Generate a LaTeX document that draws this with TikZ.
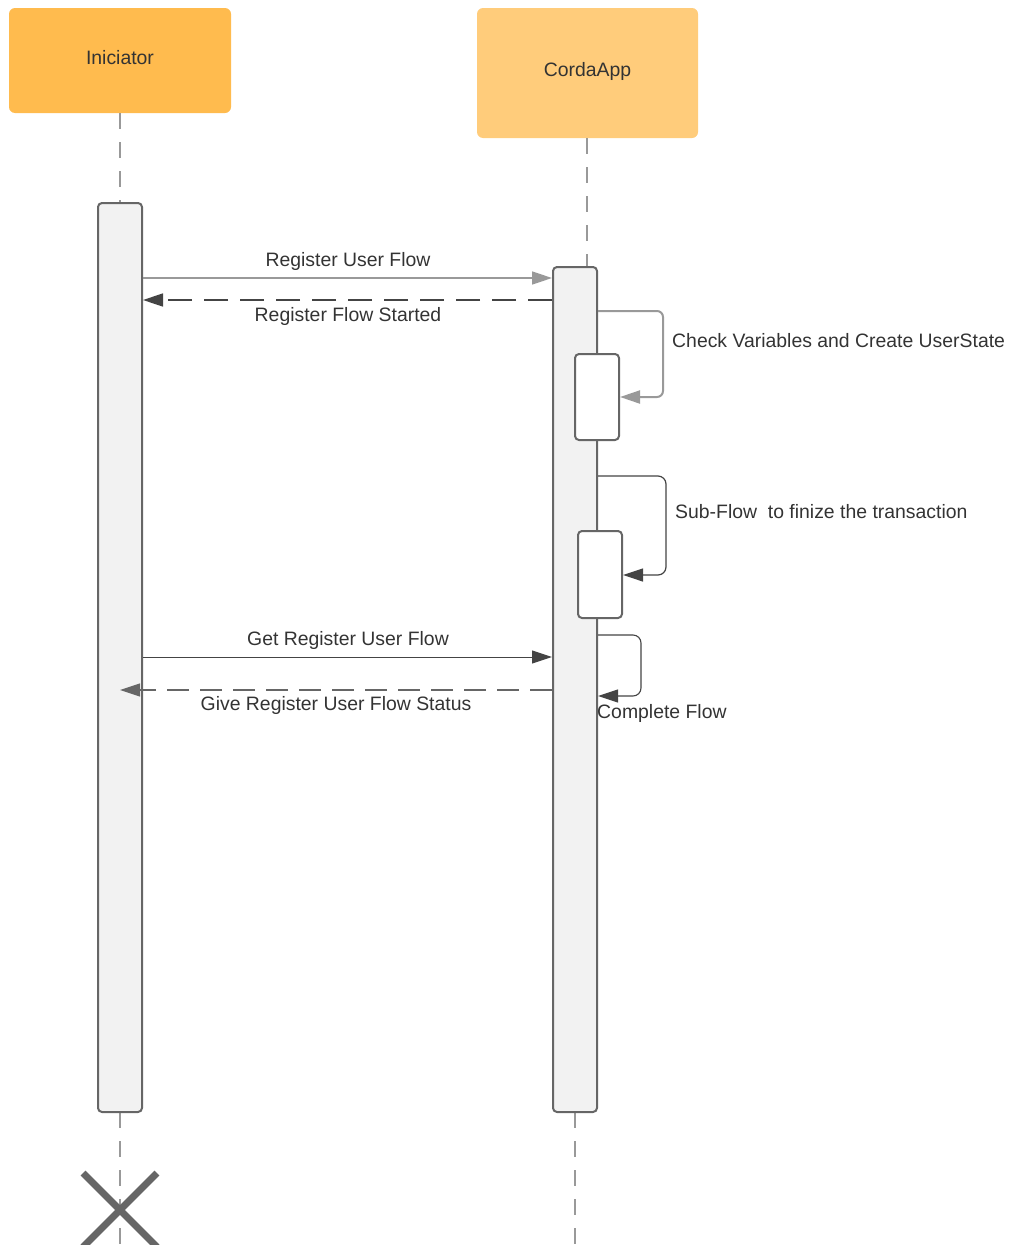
\documentclass[tikz,border=0pt]{standalone}
\usepackage{fontspec}
\setmainfont{Liberation Sans}
\usetikzlibrary{arrows.meta}
\definecolor{orA}{HTML}{FFBB4E}
\definecolor{orB}{HTML}{FFCC7B}
\definecolor{strk}{HTML}{666666}
\definecolor{actfill}{HTML}{F2F2F2}
\definecolor{lgray}{HTML}{999999}
\definecolor{dgray}{HTML}{444444}
\definecolor{txt}{HTML}{333333}
\tikzset{
  actor/.style={draw=none, rounded corners=6pt, text=txt, font=\fontsize{19.4}{23}\selectfont},
  actbox/.style={draw=strk, line width=2pt, fill=actfill, rounded corners=4pt, minimum width=44pt, inner sep=0pt},
  subbox/.style={draw=strk, line width=2pt, fill=white, rounded corners=4pt, minimum width=44pt, inner sep=0pt},
  life/.style={draw=lgray, line width=1.6pt, dash pattern=on 16pt off 13pt},
  lbl/.style={text=txt, font=\fontsize{19.4}{23}\selectfont, inner sep=0pt},
  tipL/.style={-{Triangle[length=20pt,width=13pt]}},
}
\begin{document}
\begin{tikzpicture}[x=1pt,y=-1pt]
\useasboundingbox (0,0) rectangle (1010,1245);
% actors
\node[actor, fill=orA, minimum width=222pt, minimum height=105pt] (ini) at (120,60.5) {};
\node[lbl] (initxt) at (120,58) {Iniciator};
\node[actor, fill=orB, minimum width=221pt, minimum height=130pt] (corda) at (587.5,73) {};
\node[lbl] (cordatxt) at (587.5,71) {CordaApp};
% coordinates
\coordinate (iend) at (120,1245);
\coordinate (cend) at (575,1245);
\coordinate (ctop) at (587,267);
% lifelines
\draw[life] (ini.south) -- (120,203);
\draw[life] (corda.south -| ctop) -- (ctop);
\draw[life] (120,1112) -- (iend);
\draw[life] (575,1112) -- (cend);
% activations
\node[actbox, minimum height=909pt] (iact) at (120,657.5) {};
\node[actbox, minimum height=845pt] (cact) at (575,689.5) {};
\node[subbox, minimum height=86pt] (n1) at (597,397) {};
\node[subbox, minimum height=87pt] (n2) at (600,574.5) {};
% messages
\draw[lgray, line width=1.6pt, tipL] (iact.east |- 0,278) -- (cact.west |- 0,278);
\node[lbl] (l1) at (348,261) {Register User Flow};
\draw[dgray, line width=1.5pt, dash pattern=on 24pt off 12pt, tipL] (cact.west |- 0,300) -- (iact.east |- 0,300);
\node[lbl] (l2) at (348,316) {Register Flow Started};
% self 1
\draw[lgray, line width=2pt, rounded corners=6pt, tipL] (cact.east |- 0,311) -- (663,311) -- (663,397) -- (n1.east |- 0,397);
\node[lbl, anchor=west] (l3) at (672,341) {Check Variables and Create UserState};
% self 2
\draw[dgray, line width=1.2pt, rounded corners=8pt, tipL] (cact.east |- 0,476) -- (666,476) -- (666,575) -- (n2.east |- 0,575);
\node[lbl, anchor=west] (l4) at (675,512) {Sub-Flow\ \ to finize the transaction};
% self 3
\draw[dgray, line width=1.1pt, rounded corners=8pt, tipL] (cact.east |- 0,635) -- (641,635) -- (641,696) -- (cact.east |- 0,696);
\node[lbl, anchor=west] (l5) at (597,713) {Complete Flow};
% get / give
\draw[dgray, line width=1pt, tipL] (iact.east |- 0,657) -- (cact.west |- 0,657);
\node[lbl] (l6) at (348,640) {Get Register User Flow};
\coordinate (gend) at (120,690);
\draw[strk, line width=1.1pt, dash pattern=on 22pt off 11pt, tipL] (cact.west |- 0,690) -- (gend);
\node[lbl] (l7) at (336,705) {Give Register User Flow Status};
% destroy mark
\draw[strk, line width=7pt] (83,1173) -- (157,1247) (83,1247) -- (157,1173);
\end{tikzpicture}
\end{document}
